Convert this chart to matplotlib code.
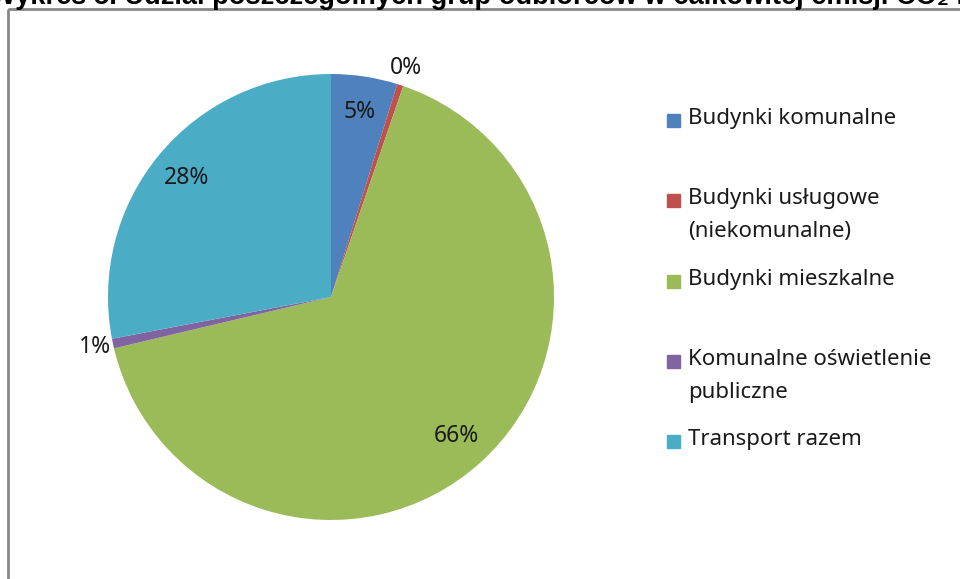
import matplotlib
matplotlib.use("Agg")
import matplotlib.pyplot as plt
import matplotlib.patches as mpatches
import numpy as np

# udział grup odbiorców w emisji CO2 (%)
categories = ["Budynki komunalne",
              "Budynki usługowe\n(niekomunalne)",
              "Budynki mieszkalne",
              "Komunalne oświetlenie\npubliczne",
              "Transport razem"]
shares = [4.8, 0.45, 66.05, 0.7, 28.0]
colors = ["#4F81BD", "#C0504D", "#9BBB59", "#8064A2", "#4BACC6"]
title = "Wykres 5. Udział poszczególnych grup odbiorców w całkowitej emisji CO₂ na terenie gminy"

W, H = 960, 579
fig = plt.figure(figsize=(W / 100, H / 100), dpi=100)

# ramka wykresu (ucięta z prawej i z dołu)
frame = mpatches.Rectangle((8 / W, 1 - 9 / H), 2, -2, transform=fig.transFigure,
                           fill=False, edgecolor="#888888", linewidth=2)
fig.patches.append(frame)

# tytuł, ucięty u góry
fig.text(-10 / W, 1 - 4 / H, title, fontsize=19.6, fontweight="bold",
         family=["Liberation Sans", "DejaVu Sans"], va="baseline", ha="left")

font = "Noto Sans"
cx, cy, r = 331, 297, 223
ax = fig.add_axes([(cx - r) / W, (H - cy - r) / H, 2 * r / W, 2 * r / H])
wedges, texts, autotexts = ax.pie(shares, colors=colors, startangle=90, counterclock=False,
                                  autopct="%.0f%%", pctdistance=0.84, radius=1,
                                  wedgeprops=dict(linewidth=0),
                                  textprops=dict(fontsize=16.5, family=font, color="#1a1a1a"))
ax.set_xlim(-1, 1)
ax.set_ylim(-1, 1)
ax.axis("off")

# małe udziały - etykiety poza kołem
for w, t in zip(wedges, autotexts):
    if w.theta2 - w.theta1 < 5:
        ang = np.deg2rad((w.theta1 + w.theta2) / 2)
        t.set_position((1.08 * np.cos(ang), 1.08 * np.sin(ang)))
        t.set_clip_on(False)

# legenda
legend_y = [120, 200, 281, 361, 441]
for lab, col, y in zip(categories, colors, legend_y):
    fig.patches.append(mpatches.Rectangle((667 / W, 1 - (y + 7) / H), 13 / W, 13 / H,
                                          transform=fig.transFigure, color=col))
    fig.text(688 / W, 1 - (y - 12) / H, lab, fontsize=16, family=font, color="#1a1a1a",
             va="top", ha="left", linespacing=1.72)

fig.savefig("out.png", dpi=100)
